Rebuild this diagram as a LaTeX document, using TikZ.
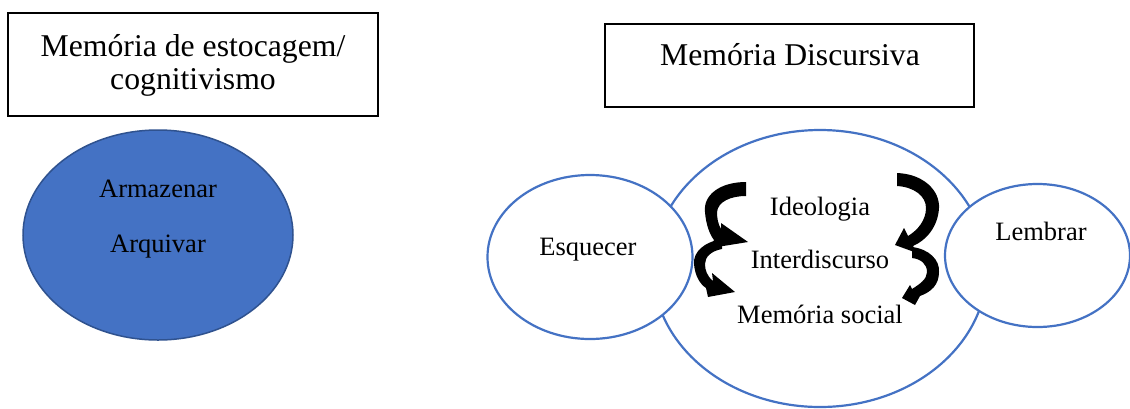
\documentclass[tikz,border=0pt]{standalone}
\usepackage{fontspec}
\setmainfont{Liberation Serif}
\usetikzlibrary{shapes.geometric}
\definecolor{wblue}{HTML}{4472C4}
\definecolor{wdark}{HTML}{2F528F}
\tikzset{
  titlebox/.style={draw=black, line width=1.5pt, fill=white, inner sep=0pt},
  titletext/.style={font=\fontsize{31.7}{32}\selectfont, inner sep=0pt, anchor=base},
  bubble/.style={ellipse, draw=wblue, line width=2.2pt, fill=white, inner sep=0pt},
  solid bubble/.style={ellipse, draw=wdark, line width=1.5pt, fill=wblue, inner sep=0pt},
  word/.style={font=\fontsize{26.5}{28}\selectfont, inner sep=0pt, anchor=base},
  curlarrow/.style={fill=black}
}
\begin{document}
\begin{tikzpicture}[x=1pt, y=-1pt]
\useasboundingbox (0,0) rectangle (1130,408);
\fill[white] (0,0) rectangle (1130,408);

% left part
\node[titlebox, minimum width=370pt, minimum height=103pt] (b1) at (193,64.5) {};
\node[titletext] (t1a) at (193,56) {Memória de estocagem/};
\node[titletext] (t1b) at (193,89) {cognitivismo};

\node[solid bubble, minimum width=270pt, minimum height=210pt] (store) at (158,235) {};
\node[word] (arm) at (158,197) {Armazenar};
\node[word] (arq) at (158,252) {Arquivar};

% right part
\node[titlebox, minimum width=369pt, minimum height=83pt] (b2) at (789.5,65.5) {};
\node[titletext] (t2) at (790,65) {Memória Discursiva};

\node[bubble, minimum width=334pt, minimum height=277pt] (big) at (820,268.5) {};
\node[bubble, minimum width=205pt, minimum height=164pt] (esq) at (590,257) {};
\node[bubble, minimum width=185pt, minimum height=143pt] (lem) at (1037.5,255.5) {};

\node[word] (ideo) at (820,215) {Ideologia};
\node[word] (inter) at (820,268) {Interdiscurso};
\node[word] (msoc) at (820,323) {Memória social};
\node[word] (esqt) at (588,255) {Esquecer};
\node[word] (lemt) at (1041,240) {Lembrar};

% curved arrows
\fill[curlarrow] (746,182) .. controls (720,182) and (703,195) .. (705,212)
  .. controls (706,225) and (710,235) .. (714,240) -- (711,248) -- (748,242) -- (721,223) -- (721,229)
  .. controls (718,224) and (717,218) .. (717,212)
  .. controls (718,202) and (730,196) .. (746,196) -- cycle;
\fill[curlarrow] (722,239) .. controls (704,242) and (693,252) .. (694,264)
  .. controls (695,276) and (700,284) .. (706,288) -- (708,297) -- (735,292) -- (712,273) -- (713,281)
  .. controls (707,276) and (705,270) .. (705,264)
  .. controls (705,257) and (711,251) .. (722,249) -- cycle;
\fill[curlarrow] (897,173) .. controls (924,174) and (940,191) .. (939,208)
  .. controls (938,226) and (927,240) .. (913,246) -- (917,253) -- (895,245) -- (904,228) -- (908,236)
  .. controls (918,230) and (926,220) .. (926,208)
  .. controls (926,196) and (914,187) .. (897,186) -- cycle;
\fill[curlarrow] (912,247) .. controls (929,249) and (940,260) .. (939,272)
  .. controls (939,285) and (931,292) .. (920,296) -- (915,305) -- (902,298) -- (910,285) -- (912,289)
  .. controls (920,284) and (927,279) .. (927,272)
  .. controls (927,264) and (921,259) .. (912,258) -- cycle;
\end{tikzpicture}
\end{document}
